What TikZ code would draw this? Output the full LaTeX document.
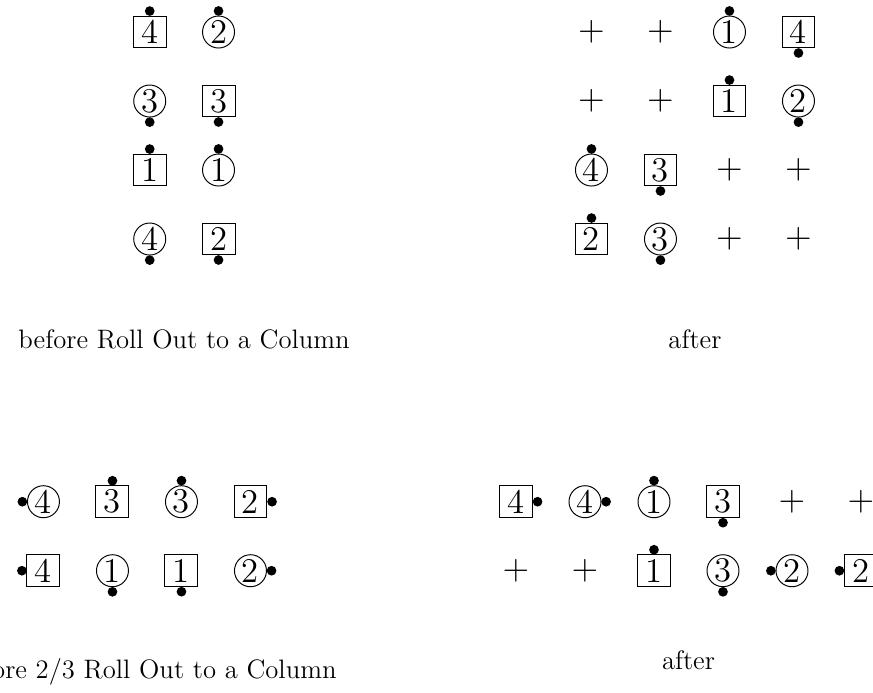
\documentclass[tikz,border=0pt]{standalone}
\usepackage{tikz}
\usetikzlibrary{calc,positioning}

\newcommand{\Dancer}[5]% #1=name, #2=style (boy/girl), #3=position, #4=number, #5=facing angle
{\node[#2] (#1) at (#3) {#4};
 \fill ($(#1.#5)+(#5:1.9pt)$) circle (2pt);% nose
}

\begin{document}
\begin{tikzpicture}[
	boy/.style={draw,line width=0.4pt,rectangle,inner sep=0pt,
		minimum width=13.6pt,minimum height=13.1pt,font=\fontsize{14.3}{16}\selectfont},
	girl/.style={draw,line width=0.4pt,circle,inner sep=0pt,
		minimum size=13.2pt,font=\fontsize{14.3}{16}\selectfont},
	spot/.style={inner sep=0pt,font=\fontsize{14.3}{16}\selectfont},
	caption/.style={anchor=base,inner sep=0pt,font=\fontsize{11}{13}\selectfont}]

	\useasboundingbox (0,0) rectangle (12.652,-10.029);

	%% (A) before Roll Out to a Column
	\Dancer{A1}{boy}{2.170,-0.464}{4}{90}
	\Dancer{A2}{girl}{3.167,-0.464}{2}{90}
	\Dancer{A3}{girl}{2.170,-1.464}{3}{270}
	\Dancer{A4}{boy}{3.167,-1.464}{3}{270}
	\Dancer{A5}{boy}{2.170,-2.464}{1}{90}
	\Dancer{A6}{girl}{3.167,-2.464}{1}{90}
	\Dancer{A7}{girl}{2.170,-3.464}{4}{270}
	\Dancer{A8}{boy}{3.167,-3.464}{2}{270}
	\node[caption] (capA) at (2.668,-5.05) {before Roll Out to a Column};

	%% (B) after
	\node[spot] (BS1) at (8.572,-0.464) {$+$};
	\node[spot] (BS2) at (9.572,-0.464) {$+$};
	\node[spot] (BS3) at (8.572,-1.464) {$+$};
	\node[spot] (BS4) at (9.572,-1.464) {$+$};
	\node[spot] (BS5) at (10.572,-2.464) {$+$};
	\node[spot] (BS6) at (11.572,-2.464) {$+$};
	\node[spot] (BS7) at (10.572,-3.464) {$+$};
	\node[spot] (BS8) at (11.572,-3.464) {$+$};
	\Dancer{B1}{girl}{10.572,-0.464}{1}{90}
	\Dancer{B2}{boy}{11.572,-0.464}{4}{270}
	\Dancer{B3}{boy}{10.572,-1.464}{1}{90}
	\Dancer{B4}{girl}{11.572,-1.464}{2}{270}
	\Dancer{B5}{girl}{8.572,-2.464}{4}{90}
	\Dancer{B6}{boy}{9.572,-2.464}{3}{270}
	\Dancer{B7}{boy}{8.572,-3.464}{2}{90}
	\Dancer{B8}{girl}{9.572,-3.464}{3}{270}
	\node[caption] (capB) at (10.072,-5.05) {after};

	%% (C) before 2/3 Roll Out to a Column
	\Dancer{C1}{girl}{0.630,-7.271}{4}{180}
	\Dancer{C2}{boy}{1.630,-7.271}{3}{90}
	\Dancer{C3}{girl}{2.630,-7.271}{3}{90}
	\Dancer{C4}{boy}{3.630,-7.271}{2}{0}
	\Dancer{C5}{boy}{0.630,-8.271}{4}{180}
	\Dancer{C6}{girl}{1.630,-8.271}{1}{270}
	\Dancer{C7}{boy}{2.630,-8.271}{1}{270}
	\Dancer{C8}{girl}{3.630,-8.271}{2}{0}
	\node[caption] (capC) at (2.130,-9.84) {before 2/3 Roll Out to a Column};

	%% (D) after
	\Dancer{D1}{boy}{7.478,-7.271}{4}{0}
	\Dancer{D2}{girl}{8.478,-7.271}{4}{0}
	\Dancer{D3}{girl}{9.478,-7.271}{1}{90}
	\Dancer{D4}{boy}{10.478,-7.271}{3}{270}
	\node[spot] (DS1) at (11.478,-7.271) {$+$};
	\node[spot] (DS2) at (12.478,-7.271) {$+$};
	\node[spot] (DS3) at (7.478,-8.271) {$+$};
	\node[spot] (DS4) at (8.478,-8.271) {$+$};
	\Dancer{D5}{boy}{9.478,-8.271}{1}{90}
	\Dancer{D6}{girl}{10.478,-8.271}{3}{270}
	\Dancer{D7}{girl}{11.478,-8.271}{2}{180}
	\Dancer{D8}{boy}{12.478,-8.271}{2}{180}
	\node[caption] (capD) at (9.978,-9.70) {after};
\end{tikzpicture}
\end{document}
